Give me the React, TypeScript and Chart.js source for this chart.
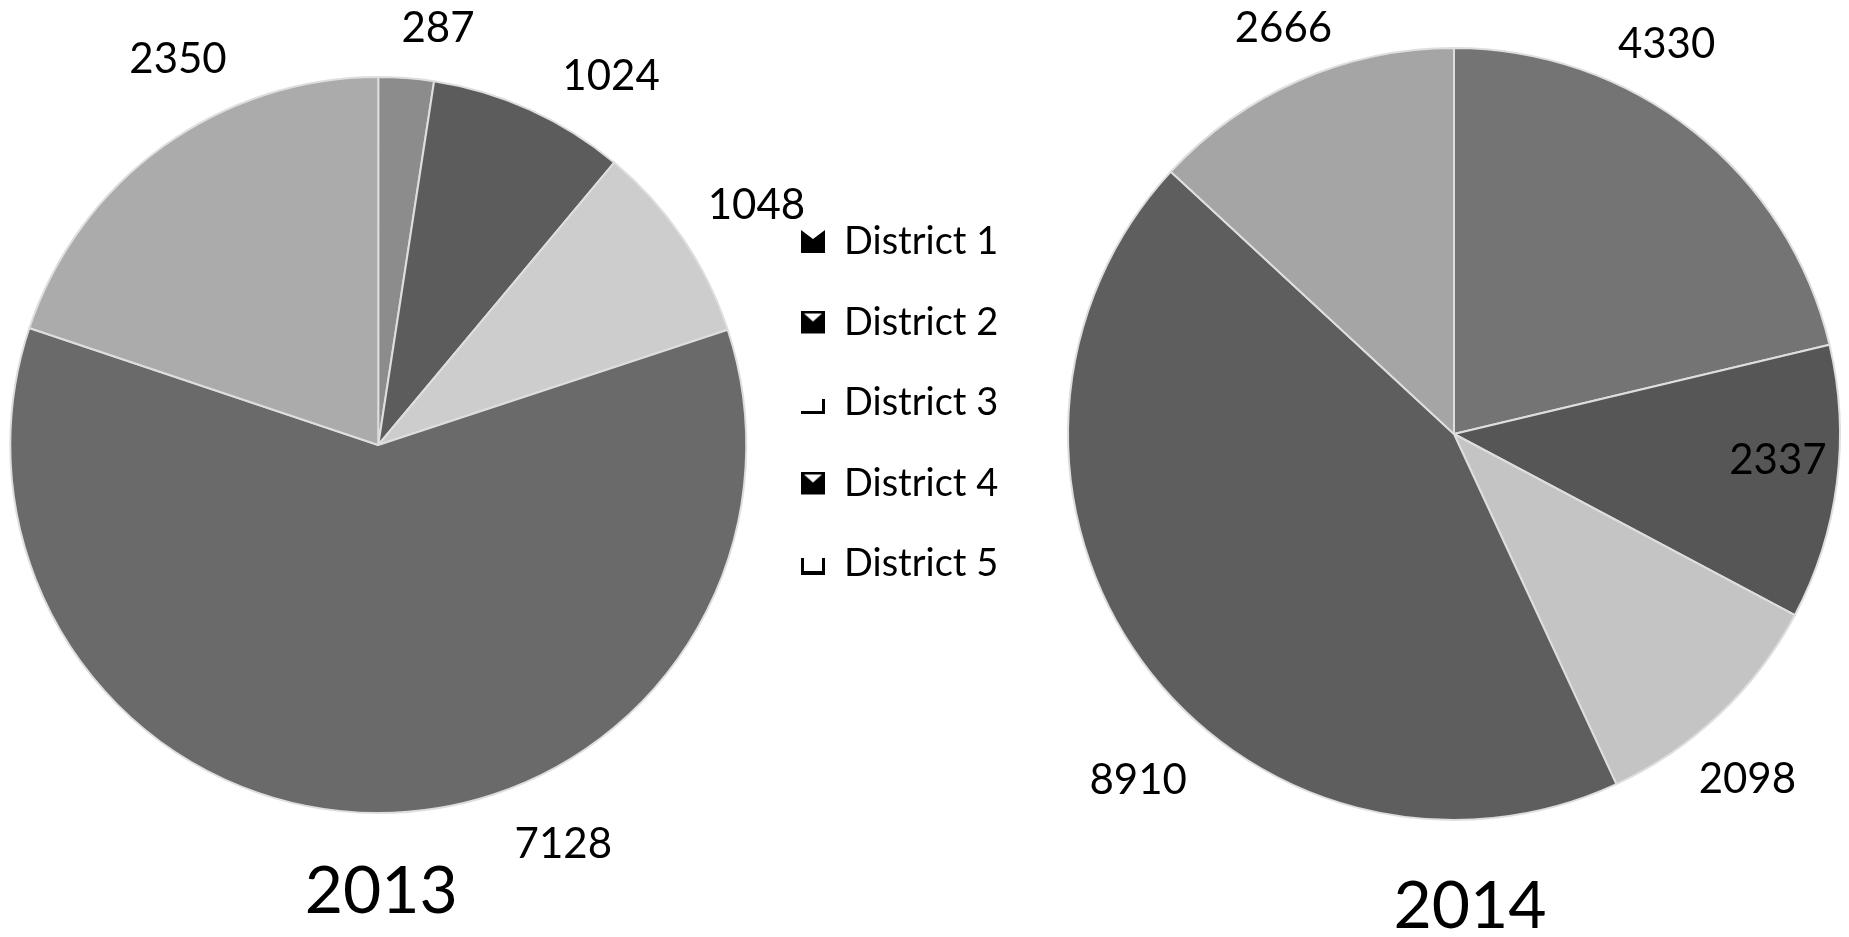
import React, { useEffect, useRef } from 'react';
import { Chart, registerables } from 'chart.js';

Chart.register(...registerables);

// ---------- data ----------
const districts = ['District 1', 'District 2', 'District 3', 'District 4', 'District 5'];
const values2013 = [287, 1024, 1048, 7128, 2350];
const values2014 = [4330, 2337, 2098, 8910, 2666];
const yearTitles = ['2013', '2014'];

// ---------- styles ----------
const colors2013 = ['#8c8c8c', '#5c5c5c', '#cdcdcd', '#6a6a6a', '#ababab'];
const colors2014 = ['#747474', '#565656', '#c4c4c4', '#5e5e5e', '#a5a5a5'];
const markerKinds = ['notch', 'tri', 'L', 'tri', 'U'];

// label placement (angle shift in degrees from slice middle, radius factor)
const labelShift2013 = [3.8, 8.0, 1.8, -25.0, 8.3];
const labelFactor2013 = [1.144, 1.184, 1.217, 1.196, 1.181];
const labelShift2014 = [-9.7, -2.7, 3.1, -11.6, 0.8];
const labelFactor2014 = [1.15, 0.842, 1.174, 1.214, 1.141];

const FONT = 'Lato, "Open Sans", sans-serif';

function makeMarker(kind: string): HTMLCanvasElement {
  const c = document.createElement('canvas');
  c.width = 24;
  c.height = 24;
  const g = c.getContext('2d') as CanvasRenderingContext2D;
  g.fillStyle = '#000';
  if (kind === 'notch') {
    g.beginPath();
    g.moveTo(0, 0);
    g.lineTo(12, 9);
    g.lineTo(24, 0);
    g.lineTo(24, 23);
    g.lineTo(0, 23);
    g.closePath();
    g.fill();
  } else if (kind === 'tri') {
    g.fillRect(0, 0, 24, 23);
    g.fillStyle = '#fff';
    g.beginPath();
    g.moveTo(3, 3);
    g.lineTo(21, 3);
    g.lineTo(12, 11);
    g.closePath();
    g.fill();
  } else if (kind === 'L') {
    g.fillRect(0, 20, 24, 3);
    g.fillRect(21, 8, 3, 15);
  } else if (kind === 'U') {
    g.fillRect(0, 6, 3, 17);
    g.fillRect(21, 6, 3, 17);
    g.fillRect(0, 19, 24, 4);
  }
  return c;
}

function makeLabelsPlugin(shifts: number[], factors: number[], title: string, titleDx: number, titleDy: number) {
  return {
    id: 'pieLabels',
    afterDatasetsDraw(chart: any) {
      const meta = chart.getDatasetMeta(0);
      const ds = chart.data.datasets[0];
      const ctx = chart.ctx as CanvasRenderingContext2D;
      ctx.save();
      ctx.fillStyle = '#000';
      ctx.textAlign = 'center';
      ctx.textBaseline = 'middle';
      ctx.font = `42px ${FONT}`;
      let cx = 0;
      let cy = 0;
      meta.data.forEach((arc: any, i: number) => {
        const p = arc.getProps(['x', 'y', 'startAngle', 'endAngle', 'outerRadius'], true);
        cx = p.x;
        cy = p.y;
        const a = (p.startAngle + p.endAngle) / 2 + (shifts[i] * Math.PI) / 180;
        const r = p.outerRadius * factors[i];
        ctx.fillText(String(ds.data[i]), p.x + r * Math.cos(a), p.y + r * Math.sin(a));
      });
      ctx.font = `66px ${FONT}`;
      ctx.fillText(title, cx + titleDx, cy + titleDy);
      ctx.restore();
    },
  };
}

function PieCanvas(props: {
  values: number[];
  colors: string[];
  radius: number;
  padding: { left: number; right: number; top: number; bottom: number };
  width: number;
  left: number;
  showLegend: boolean;
  plugin: any;
}) {
  const ref = useRef<HTMLCanvasElement | null>(null);
  useEffect(() => {
    if (!ref.current) return;
    const markers = markerKinds.map(makeMarker);
    const chart = new Chart(ref.current, {
      type: 'pie',
      data: {
        labels: districts,
        datasets: [
          {
            data: props.values,
            backgroundColor: props.colors,
            borderColor: '#dedede',
            borderWidth: 2,
            hoverOffset: 0,
            offset: 0,
          },
        ],
      },
      options: {
        responsive: false,
        animation: false,
        events: [],
        radius: props.radius,
        layout: { padding: props.padding },
        plugins: {
          title: { display: false },
          tooltip: { enabled: false },
          legend: {
            display: props.showLegend,
            position: 'right',
            align: 'start',
            labels: {
              usePointStyle: true,
              boxWidth: 24,
              padding: 42.5,
              color: '#000',
              font: { size: 38, family: FONT },
              generateLabels: () =>
                districts.map((d, i) => ({
                  text: d,
                  pointStyle: markers[i],
                  fillStyle: '#000',
                  strokeStyle: '#000',
                  lineWidth: 0,
                  hidden: false,
                  index: i,
                  datasetIndex: 0,
                })),
            },
          },
        },
      } as any,
      plugins: [props.plugin],
    });
    return () => chart.destroy();
  }, []);
  return (
    <canvas
      ref={ref}
      width={props.width}
      height={937}
      style={{ position: 'absolute', left: props.left, top: 0, width: props.width, height: 937 }}
    />
  );
}

export default function App() {
  useEffect(() => {
    document.body.style.margin = '0';
    document.body.style.overflow = 'hidden';
    document.body.style.background = '#fff';
  }, []);
  const plugin2013 = makeLabelsPlugin(labelShift2013, labelFactor2013, yearTitles[0], 3, 447);
  const plugin2014 = makeLabelsPlugin(labelShift2014, labelFactor2014, yearTitles[1], 16, 473);
  return (
    <div style={{ position: 'relative', width: 1849, height: 937, background: '#fff', overflow: 'hidden' }}>
      <PieCanvas
        values={values2013}
        colors={colors2013}
        radius={368}
        padding={{ left: 0, right: 9.8, top: 180.5, bottom: 227.5 }}
        width={1020}
        left={-2}
        showLegend={true}
        plugin={plugin2013}
      />
      <PieCanvas
        values={values2014}
        colors={colors2014}
        radius={386}
        padding={{ left: 19, right: 0, top: 0, bottom: 69 }}
        width={809}
        left={1040}
        showLegend={false}
        plugin={plugin2014}
      />
    </div>
  );
}
